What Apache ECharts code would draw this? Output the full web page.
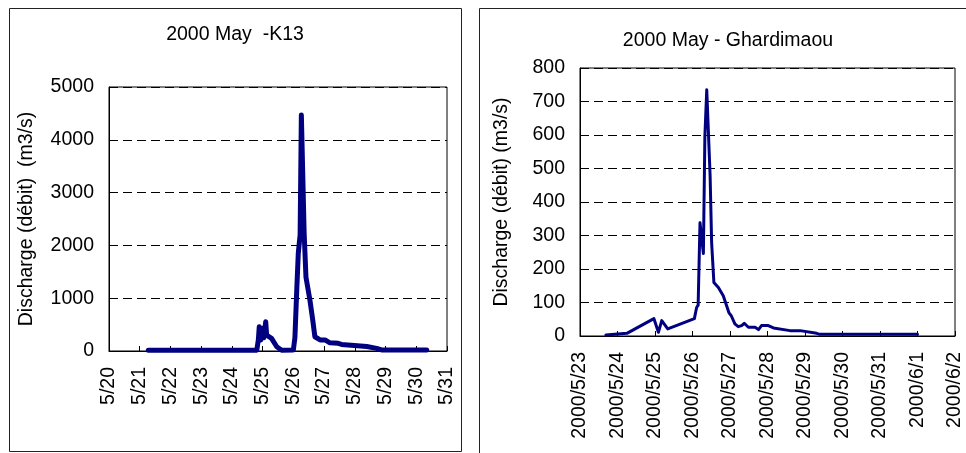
<!DOCTYPE html>
<html>
<head>
<meta charset="utf-8">
<script src="https://cdn.jsdelivr.net/npm/echarts@6/dist/echarts.min.js"></script>
<style>
html,body{margin:0;padding:0;background:#fff;}
#chart{width:966px;height:453px;}
</style>
</head>
<body>
<div id="chart"></div>
<script>
// ---- Data ----
// K13 (left): time in days of May 2000 (fractional), discharge m3/s
const k13Days = [21.28, 24.81, 24.86, 24.89, 24.94, 24.99, 25.04, 25.10, 25.13, 25.29, 25.46, 25.62, 26.00, 26.05, 26.11, 26.16, 26.22, 26.26, 26.30, 26.35, 26.41, 26.54, 26.63, 26.70, 26.87, 27.03, 27.19, 27.46, 27.57, 28.39, 28.71, 28.87, 30.34];
const k13Flow = [15, 15, 210, 460, 210, 430, 250, 555, 300, 240, 80, 15, 20, 250, 1150, 1850, 2200, 4470, 4470, 2250, 1400, 960, 590, 270, 210, 210, 155, 145, 125, 85, 50, 20, 20];
const k13TickLabels = ['5/20','5/21','5/22','5/23','5/24','5/25','5/26','5/27','5/28','5/29','5/30','5/31'];

// Ghardimaou (right): time in days counted from May 0 (June 1 = 32)
const ghaDays = [23.69, 24.25, 24.97, 25.09, 25.18, 25.34, 26.05, 26.11, 26.15, 26.20, 26.25, 26.29, 26.33, 26.38, 26.41, 26.47, 26.51, 26.57, 26.69, 26.82, 26.97, 27.04, 27.13, 27.22, 27.31, 27.38, 27.49, 27.67, 27.76, 27.84, 28.02, 28.16, 28.60, 28.87, 29.31, 29.40, 32.00];
const ghaFlow = [3, 8, 52, 11, 46, 21, 52, 85, 92, 338, 333, 246, 596, 735, 730, 477, 279, 160, 145, 120, 70, 59, 36, 28, 31, 38, 26, 26, 19, 31, 31, 24, 16, 16, 8, 5, 5];
const ghaTickLabels = ['2000/5/23','2000/5/24','2000/5/25','2000/5/26','2000/5/27','2000/5/28','2000/5/29','2000/5/30','2000/5/31','2000/6/1','2000/6/2'];

const titleLeft = '2000 May  -K13';
const titleRight = '2000 May - Ghardimaou';
const yNameLeft = 'Discharge (débit)  (m3/s)';
const yNameRight = 'Discharge (débit) (m3/s)';

// ---- Chart ----
const FONT = '"Liberation Sans", Arial, sans-serif';
const FS = 19.5;
const chart = echarts.init(document.getElementById('chart'));

function pairs(xs, ys){ return xs.map((x,i)=>[x, ys[i]]); }

const xCommon = {
  type: 'value',
  interval: 1,
  axisLine: {lineStyle: {color: '#000', width: 1}},
  axisTick: {show: true, inside: true, length: 5, lineStyle: {color: '#000'}},
  splitLine: {show: false},
  axisLabel: {rotate: 90, margin: 16, color: '#000', fontSize: FS, fontFamily: FONT, showMinLabel: true, showMaxLabel: true}
};
const yCommon = {
  type: 'value',
  nameLocation: 'middle',
  nameRotate: 90,
  nameTextStyle: {color: '#000', fontSize: FS, fontFamily: FONT},
  axisLine: {show: true, lineStyle: {color: '#000', width: 1}},
  axisTick: {show: false},
  splitLine: {show: true, lineStyle: {color: '#000', type: [9, 5], width: 1}},
  axisLabel: {margin: 15, color: '#000', fontSize: FS, fontFamily: FONT, formatter: v => String(v)}
};

chart.setOption({
  animation: false,
  backgroundColor: '#fff',
  grid: [
    {left: 109, top: 87, width: 338, height: 264, show: true, borderColor: '#000', borderWidth: 1, containLabel: false},
    {left: 580, top: 68, width: 375, height: 268, show: true, borderColor: '#000', borderWidth: 1, containLabel: false}
  ],
  xAxis: [
    Object.assign({}, xCommon, {gridIndex: 0, min: 20, max: 31,
      axisLabel: Object.assign({}, xCommon.axisLabel, {formatter: v => k13TickLabels[Math.round(v - 20)] || ''})}),
    Object.assign({}, xCommon, {gridIndex: 1, min: 23, max: 33,
      axisLabel: Object.assign({}, xCommon.axisLabel, {formatter: v => ghaTickLabels[Math.round(v - 23)] || ''})})
  ],
  yAxis: [
    Object.assign({}, yCommon, {gridIndex: 0, min: 0, max: 5000, interval: 1000, name: yNameLeft, nameGap: 72}),
    Object.assign({}, yCommon, {gridIndex: 1, min: 0, max: 800, interval: 100, name: yNameRight, nameGap: 68})
  ],
  series: [
    {type: 'line', xAxisIndex: 0, yAxisIndex: 0, data: pairs(k13Days, k13Flow), showSymbol: false,
      lineStyle: {color: '#000080', width: 5, join: 'round', cap: 'round'}},
    {type: 'line', xAxisIndex: 1, yAxisIndex: 1, data: pairs(ghaDays, ghaFlow), showSymbol: false,
      lineStyle: {color: '#000080', width: 3, join: 'round', cap: 'round'}}
  ],
  graphic: [
    {type: 'rect', shape: {x: 9.5, y: 8.5, width: 452, height: 443}, style: {fill: 'none', stroke: '#222', lineWidth: 1}, z: -1},
    {type: 'rect', shape: {x: 479.5, y: 8.5, width: 520, height: 460}, style: {fill: 'none', stroke: '#222', lineWidth: 1}, z: -1},
    {type: 'text', x: 235, y: 35, style: {text: titleLeft, fill: '#000', font: FS + 'px ' + FONT, textAlign: 'center', textVerticalAlign: 'middle'}},
    {type: 'text', x: 728, y: 41, style: {text: titleRight, fill: '#000', font: FS + 'px ' + FONT, textAlign: 'center', textVerticalAlign: 'middle'}}
  ]
});
</script>
</body>
</html>
